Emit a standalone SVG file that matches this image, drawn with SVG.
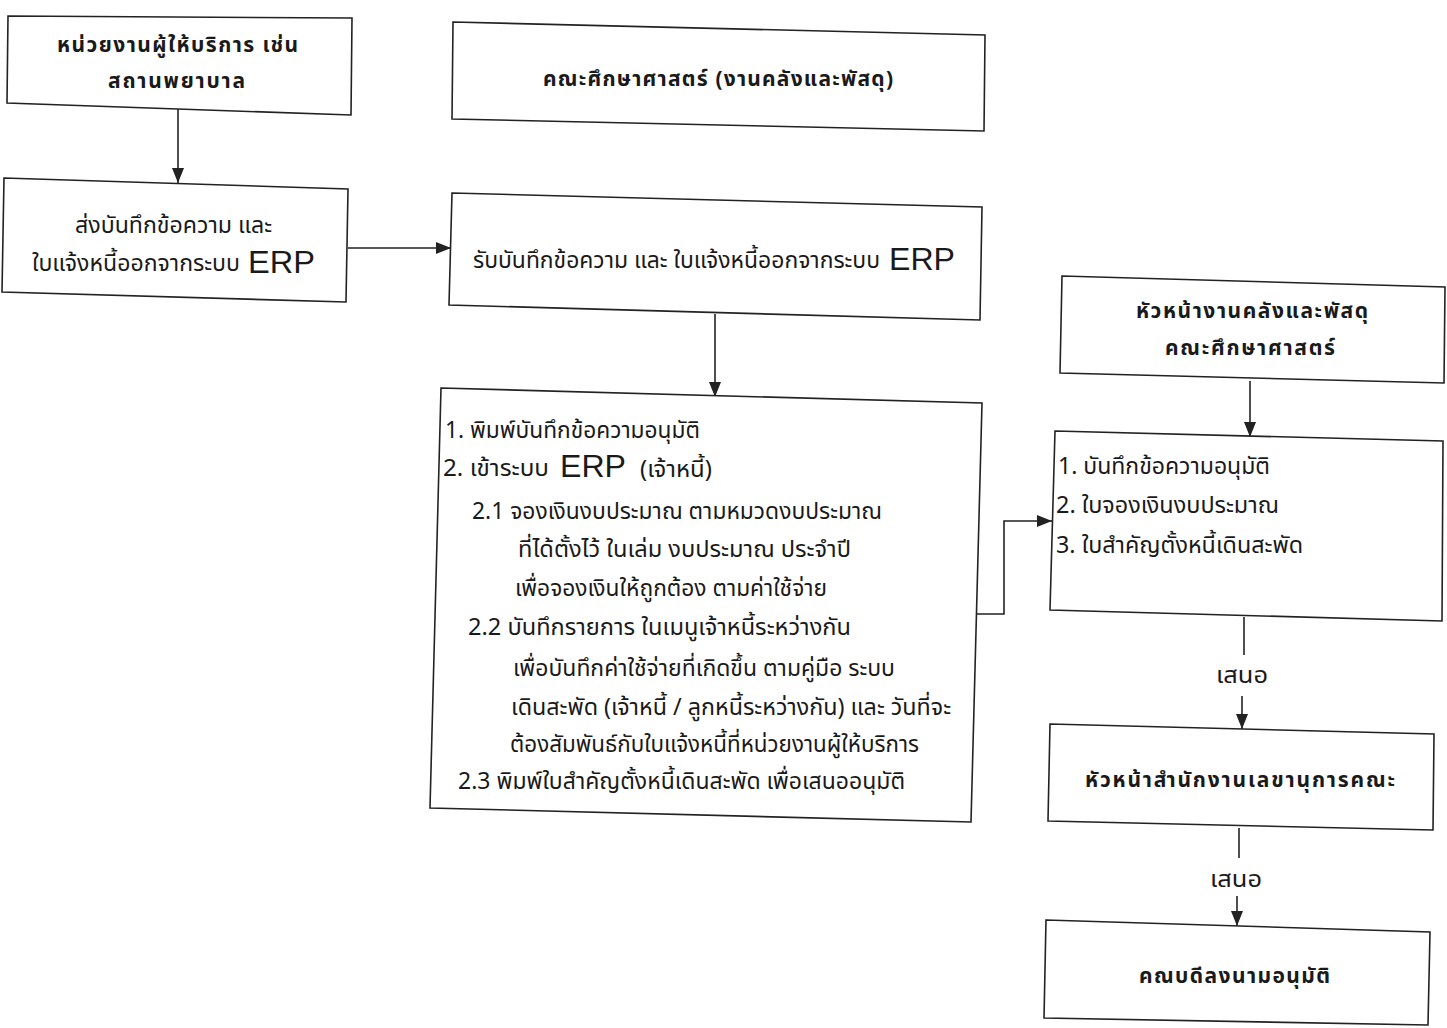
<svg xmlns="http://www.w3.org/2000/svg" width="1447" height="1028" viewBox="0 0 1447 1028">
<style>
.box{fill:#fff;stroke:#222;stroke-width:1.6}
.t{font-family:"Noto Sans Thai","Noto Sans","Liberation Sans",sans-serif;font-size:23px;fill:#1a1a1a}
.h{font-family:"Noto Sans Thai","Noto Sans","Liberation Sans",sans-serif;font-size:21px;font-weight:bold;fill:#1a1a1a}
.erp{font-family:"Liberation Sans",Arial,sans-serif;font-size:32px;fill:#1a1a1a}
.ln{fill:none;stroke:#222;stroke-width:1.6}
</style>
<defs>
<marker id="ah" markerWidth="15" markerHeight="12" refX="15" refY="6" orient="auto" markerUnits="userSpaceOnUse" viewBox="0 0 15 12">
<path d="M0,0 L15,6 L0,12 z" fill="#222"/>
</marker>
</defs>
<rect width="1447" height="1028" fill="#fff"/>
<g id="connectors">
<path class="ln" d="M178,109 V183" marker-end="url(#ah)"/>
<path class="ln" d="M348,248 H451" marker-end="url(#ah)"/>
<path class="ln" d="M715,314 V397" marker-end="url(#ah)"/>
<path class="ln" d="M976,614 H1004 V521 H1052" marker-end="url(#ah)"/>
<path class="ln" d="M1250,381 V437" marker-end="url(#ah)"/>
<path class="ln" d="M1244,617 V655"/>
<path class="ln" d="M1242,696 V729" marker-end="url(#ah)"/>
<path class="ln" d="M1239,828 V858"/>
<path class="ln" d="M1237,896 V926" marker-end="url(#ah)"/>
<text class="t" x="1216" y="683" textLength="52" lengthAdjust="spacingAndGlyphs">เสนอ</text>
<text class="t" x="1210" y="887" textLength="52" lengthAdjust="spacingAndGlyphs">เสนอ</text>
</g>
<g id="n1">
<polygon class="box" points="8,16 352,18 351,115 7,103"/>
<text class="h" x="57" y="52" textLength="241" lengthAdjust="spacing">หน่วยงานผู้ให้บริการ เช่น</text>
<text class="h" x="108" y="88" textLength="137" lengthAdjust="spacing">สถานพยาบาล</text>
</g>
<g id="n2">
<polygon class="box" points="453,22 985,35 984,131 452,119"/>
<text class="h" x="543" y="86" textLength="350" lengthAdjust="spacing">คณะศึกษาศาสตร์ (งานคลังและพัสดุ)</text>
</g>
<g id="n3">
<polygon class="box" points="4,178 348,189 346,302 2,292"/>
<text class="t" x="75" y="233" textLength="197" lengthAdjust="spacingAndGlyphs">ส่งบันทึกข้อความ และ</text>
<text class="t" x="32" y="271" textLength="208" lengthAdjust="spacingAndGlyphs">ใบแจ้งหนี้ออกจากระบบ</text>
<text class="erp" x="248" y="273" textLength="67" lengthAdjust="spacingAndGlyphs">ERP</text>
</g>
<g id="n4">
<polygon class="box" points="452,193 982,207 980,320 449,305"/>
<text class="t" x="473" y="268" textLength="407" lengthAdjust="spacingAndGlyphs">รับบันทึกข้อความ และ ใบแจ้งหนี้ออกจากระบบ</text>
<text class="erp" x="889" y="270" textLength="66" lengthAdjust="spacingAndGlyphs">ERP</text>
</g>
<g id="n5">
<polygon class="box" points="1062,276 1445,287 1444,383 1060,373"/>
<text class="h" x="1136" y="318" textLength="232" lengthAdjust="spacing">หัวหน้างานคลังและพัสดุ</text>
<text class="h" x="1165" y="355" textLength="170" lengthAdjust="spacing">คณะศึกษาศาสตร์</text>
</g>
<g id="n6">
<polygon class="box" points="441,388 982,403 971,822 430,808"/>
<text class="t" x="445" y="438" textLength="255" lengthAdjust="spacingAndGlyphs">1.  พิมพ์บันทึกข้อความอนุมัติ</text>
<text class="t" x="443" y="476" textLength="106" lengthAdjust="spacingAndGlyphs">2.  เข้าระบบ</text>
<text class="erp" x="560" y="477" textLength="66" lengthAdjust="spacingAndGlyphs">ERP</text>
<text class="t" x="640" y="477" font-size="20" textLength="72" lengthAdjust="spacingAndGlyphs">(เจ้าหนี้)</text>
<text class="t" x="472" y="519" textLength="410" lengthAdjust="spacingAndGlyphs">2.1  จองเงินงบประมาณ ตามหมวดงบประมาณ</text>
<text class="t" x="518" y="557" textLength="333" lengthAdjust="spacingAndGlyphs">ที่ได้ตั้งไว้  ในเล่ม งบประมาณ ประจำปี</text>
<text class="t" x="515" y="596" textLength="312" lengthAdjust="spacingAndGlyphs">เพื่อจองเงินให้ถูกต้อง ตามค่าใช้จ่าย</text>
<text class="t" x="468" y="635" textLength="383" lengthAdjust="spacingAndGlyphs">2.2  บันทึกรายการ ในเมนูเจ้าหนี้ระหว่างกัน</text>
<text class="t" x="513" y="676" textLength="382" lengthAdjust="spacingAndGlyphs">เพื่อบันทึกค่าใช้จ่ายที่เกิดขึ้น ตามคู่มือ ระบบ</text>
<text class="t" x="511" y="715" textLength="440" lengthAdjust="spacingAndGlyphs">เดินสะพัด (เจ้าหนี้ / ลูกหนี้ระหว่างกัน) และ วันที่จะ</text>
<text class="t" x="510" y="752" textLength="409" lengthAdjust="spacingAndGlyphs">ต้องสัมพันธ์กับใบแจ้งหนี้ที่หน่วยงานผู้ให้บริการ</text>
<text class="t" x="458" y="789" textLength="447" lengthAdjust="spacingAndGlyphs">2.3  พิมพ์ใบสำคัญตั้งหนี้เดินสะพัด เพื่อเสนออนุมัติ</text>
</g>
<g id="n7">
<polygon class="box" points="1055,431 1443,441 1442,621 1050,610"/>
<text class="t" x="1058" y="474" textLength="212" lengthAdjust="spacingAndGlyphs">1.  บันทึกข้อความอนุมัติ</text>
<text class="t" x="1056" y="513" textLength="223" lengthAdjust="spacingAndGlyphs">2.  ใบจองเงินงบประมาณ</text>
<text class="t" x="1056" y="553" textLength="247" lengthAdjust="spacingAndGlyphs">3.  ใบสำคัญตั้งหนี้เดินสะพัด</text>
</g>
<g id="n8">
<polygon class="box" points="1050,724 1434,734 1433,830 1048,821"/>
<text class="h" x="1085" y="787" textLength="310" lengthAdjust="spacing">หัวหน้าสำนักงานเลขานุการคณะ</text>
</g>
<g id="n9">
<polygon class="box" points="1046,920 1430,932 1428,1025 1044,1018"/>
<text class="h" x="1139" y="983" textLength="191" lengthAdjust="spacing">คณบดีลงนามอนุมัติ</text>
</g>
</svg>
